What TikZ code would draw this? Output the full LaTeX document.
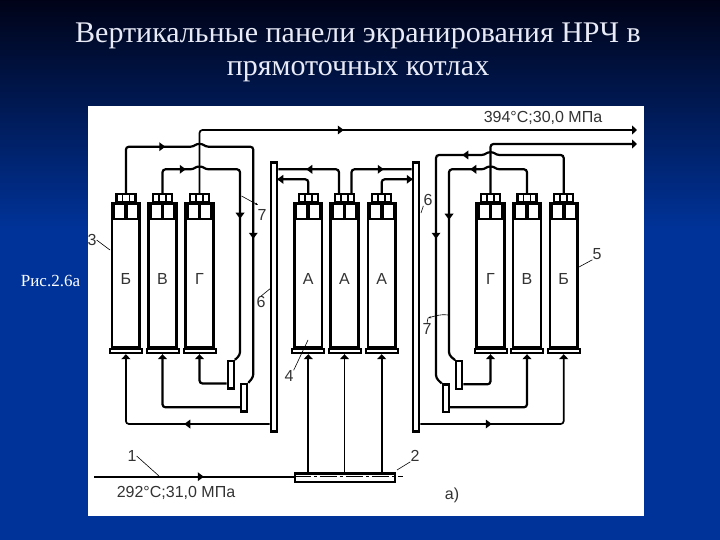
\documentclass[tikz,border=0pt]{standalone}
\usepackage{fontspec}
\setmainfont{Liberation Serif}
\newfontfamily\schemefont{Liberation Sans}
\usetikzlibrary{arrows.meta,shapes.geometric}
\definecolor{slidetop}{HTML}{000318}
\definecolor{slideblue}{HTML}{003399}
\definecolor{titlewhite}{HTML}{E8EAF6}
\tikzset{
  panelbox/.style={draw,line width=2.6pt,fill=white,minimum width=27.7pt,minimum height=144.5pt,inner sep=0pt},
  platebox/.style={draw,line width=2pt,fill=white,minimum width=32pt,minimum height=4pt,inner sep=0pt},
  headbox/.style={draw,line width=2.2pt,fill=white,minimum width=19pt,minimum height=8pt,inner sep=0pt},
  barbox/.style={draw,line width=2.6pt,fill=white,minimum width=6pt,minimum height=269pt,inner sep=0pt},
  mixbox/.style={draw,line width=2.2pt,fill=white,minimum width=6pt,minimum height=27.5pt,inner sep=0pt},
  pipe/.style={line width=2.2pt,rounded corners=3pt},
  thinpipe/.style={line width=1.7pt,rounded corners=3pt},
  leader/.style={line width=0.6pt},
  schemetext/.style={font=\schemefont\fontsize{16}{18}\selectfont,text=black!80,inner sep=0pt},
  tipmark/.style={isosceles triangle,isosceles triangle stretches,fill=black,inner sep=0pt,minimum width=9pt,minimum height=6pt,shape border rotate=#1},
}
\begin{document}
\begin{tikzpicture}[x=1pt,y=-1pt,>={Triangle[length=5pt,width=9pt]}]
% Background
\useasboundingbox (0,0) rectangle (720,540);
\fill[slideblue] (0,0) rectangle (720,540);
\shade[top color=slidetop,bottom color=slideblue] (0,0) rectangle (720,230);
\fill[white] (88,106) rectangle (643.5,516);
% Title
\node[font=\fontsize{30}{33}\selectfont,text=titlewhite,align=center,inner sep=0pt] (title) at (358,52.5) {Вертикальные панели экранирования НРЧ в\\прямоточных котлах};
\node[font=\fontsize{17}{19}\selectfont,text=white,inner sep=0pt] (figlabel) at (50.5,281) {Рис.2.6а};
% Panels
\foreach \name/\cx/\letter in {a/125.9/Б,b/162.5/В,c/199.5/Г,d/308.3/А,e/344.5/А,f/381.7/А,g/490.5/Г,h/527/В,i/563.7/Б}{
  \node[panelbox] (p\name) at (\cx,275.5) {};
  \node[platebox] (b\name) at (\cx,351.2) {};
  \node[headbox] (h\name) at (\cx,198.3) {};
  \node[schemetext] (t\name) at (\cx,279) {\letter};
  \draw[line width=1.7pt] (\cx-3.5,194) -- (\cx-3.5,203) (\cx+3.5,194) -- (\cx+3.5,203);
  \draw[line width=2.2pt] (\cx-12,203) -- (\cx-12,218.7) -- (\cx-0.8,218.7) -- (\cx-0.8,203);
  \draw[line width=2.2pt] (\cx+0.8,203) -- (\cx+0.8,218.7) -- (\cx+12,218.7) -- (\cx+12,203);
}
% Collector bars and mixers
\node[barbox] (barl) at (274,296.8) {};
\node[barbox] (barr) at (416,296.8) {};
\node[mixbox] (mixa) at (230.8,374.7) {};
\node[mixbox] (mixb) at (244.2,397.7) {};
\node[mixbox] (mixc) at (459.2,375) {};
\node[mixbox] (mixd) at (445.8,398.3) {};
\node[draw,line width=2.4pt,fill=white,minimum width=100pt,minimum height=8.5pt,inner sep=0pt] (dist) at (345,477.8) {};
% Junction points
\coordinate (outa) at (637,130);
\coordinate (outb) at (637,144);
\coordinate (inlet) at (94,476.7);
\coordinate (jal) at (193.5,146.7);
\coordinate (jar) at (205.5,146.7);
\coordinate (jbl) at (193.5,169.3);
\coordinate (jbr) at (205.5,169.3);
\coordinate (jcl) at (484.5,155);
\coordinate (jcr) at (496.5,155);
\coordinate (jdl) at (484.5,169.3);
\coordinate (jdr) at (496.5,169.3);
\coordinate (ka) at (253.3,377);
\coordinate (kb) at (240,355);
\coordinate (kc) at (449,355);
\coordinate (kd) at (436,378);
% Outlets of the left and right groups
\draw[thinpipe,->] (hc.north) |- (outa);
\draw[pipe,->] (hg.north) |- (outb);
\draw[pipe] (ha.north) |- (jal) to[bend left=40] (jar) -| (ka) -- (mixb.north east);
\draw[pipe] (hb.north) |- (jbl) to[bend left=40] (jbr) -| (kb) -- (mixa.north east);
\draw[pipe] (hi.north) |- (jcr) to[bend right=40] (jcl) -| (kd) -- (mixd.north west);
\draw[pipe] (hh.north) |- (jdr) to[bend right=40] (jdl) -| (kc) -- (mixc.north west);
% Middle group to the bars
\coordinate (hdl) at (339,193.8);
\coordinate (hdr) at (351.5,193.8);
\draw[pipe] (hdl) |- (barl.east |- 0,169.3);
\draw[pipe] (hdr) |- (barr.west |- 0,169.3);
\draw[pipe] (hd.north) |- (barl.east |- 0,179.3);
\draw[pipe] (hf.north) |- (barr.west |- 0,179.3);
% Return pipes to the plates
\draw[pipe,->] (mixa.west |- 0,383.5) -| (bc.south);
\draw[pipe,->] (mixb.west |- 0,407.3) -| (bb.south);
\draw[thinpipe,->] (barl.west |- 0,424) -| (ba.south);
\draw[pipe,->] (mixc.east |- 0,384.3) -| (bg.south);
\draw[pipe,->] (mixd.east |- 0,407.3) -| (bh.south);
\draw[thinpipe,->] (barr.east |- 0,424) -| (bi.south);
% Distribution header
\draw[thinpipe,->] (dist.north -| bd.south) -- (bd.south);
\draw[thinpipe,->] (dist.north -| be.south) -- (be.south);
\draw[thinpipe,->] (dist.north -| bf.south) -- (bf.south);
\draw[thinpipe] (inlet) -- (dist.west |- inlet);
\draw[line width=0.7pt,dash pattern=on 17pt off 3pt on 3pt off 3pt] (dist.west |- inlet) -- (403,476.7);
% Flow marks
\node[tipmark=0] (ma) at (161.5,146.7) {};
\node[tipmark=0] (mb) at (182,169.3) {};
\node[tipmark=0] (mc) at (340,130) {};
\node[tipmark=180] (md) at (310,169.3) {};
\node[tipmark=0] (me) at (380,169.3) {};
\node[tipmark=180] (mf) at (281,179.3) {};
\node[tipmark=0] (mg) at (409,179.3) {};
\node[tipmark=180] (mh) at (466,155) {};
\node[tipmark=180] (mi) at (474,169.3) {};
\node[tipmark=180] (mj) at (188,424) {};
\node[tipmark=0] (mk) at (488,424) {};
\node[tipmark=0] (ml) at (200,476.7) {};
\node[tipmark=270] (mm) at (240,215) {};
\node[tipmark=270] (mn) at (253.3,235) {};
\node[tipmark=270] (mo) at (436,235) {};
\node[tipmark=270] (mp) at (449,216) {};
% Numbers and labels
\node[schemetext] (nthree) at (92,240) {3};
\node[schemetext] (nfive) at (597,254) {5};
\node[schemetext] (nsevena) at (262,215) {7};
\node[schemetext] (nsevenb) at (427,329) {7};
\node[schemetext] (nsixa) at (261,302) {6};
\node[schemetext] (nsixb) at (428,200) {6};
\node[schemetext] (nfour) at (289,376) {4};
\node[schemetext] (ntwo) at (415,456) {2};
\node[schemetext] (none) at (132,456) {1};
\node[schemetext] (nvar) at (452,495) {а)};
\node[schemetext] (steam) at (543,118) {394°C;30,0 МПа};
\node[schemetext] (water) at (176,493) {292°C;31,0 МПа};
% Leaders
\draw[leader] (nthree.east) -- (110,250);
\draw[leader] (nfive.south west) -- (579,267);
\draw[leader,->,>={Stealth[length=3pt]}] (241.5,196) -- (258,205);
\draw[leader] (nsixa.north) -- (271,288);
\draw[leader] (nsixb.south west) -- (421,213);
\draw[leader,->,>={Stealth[length=3pt]}] (448,315) .. controls (440,314) and (435,316) .. (428,318);
\draw[leader] (nsevenb.north) -- (428,318);
\draw[leader] (nfour.north east) -- (308,340);
\draw[leader] (ntwo.south west) -- (397,470);
\draw[leader] (none.east) -- (159,476);
\end{tikzpicture}
\end{document}
